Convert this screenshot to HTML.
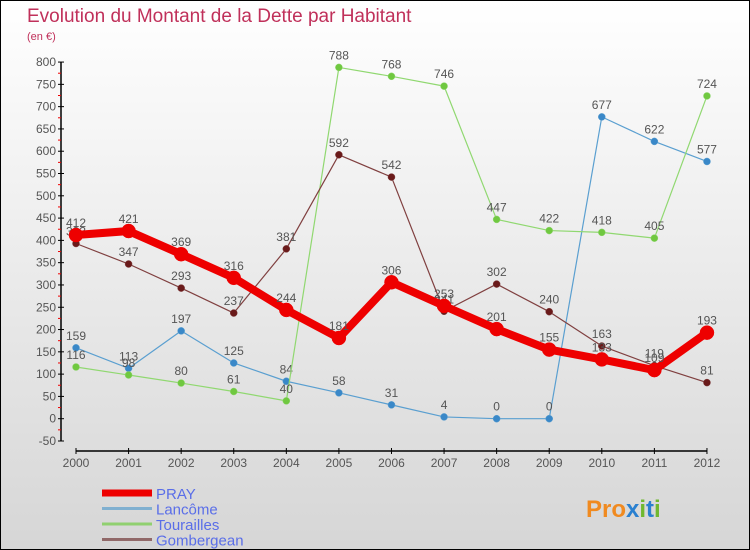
<!DOCTYPE html>
<html><head><meta charset="utf-8"><style>
body{margin:0}
#c{width:750px;height:550px;position:relative;box-sizing:border-box;border:1px solid #000;background:linear-gradient(#ffffff,#d6d6d6);overflow:hidden;font-family:"Liberation Sans","DejaVu Sans",sans-serif}
svg text{font-family:"Liberation Sans","DejaVu Sans",sans-serif}
</style></head><body>
<div id="c">
<svg id="s" width="750" height="550" xmlns="http://www.w3.org/2000/svg">
<text x="26" y="21" font-size="19" fill="#c0305a">Evolution du Montant de la Dette par Habitant</text>
<text x="26" y="39" font-size="11" fill="#c0305a">(en €)</text>
<text x="585" y="516" font-size="24" font-weight="bold" fill="#f08a20">Pro<tspan fill="#2a80d0">x</tspan><tspan fill="#70b830">i</tspan><tspan fill="#2a80d0">t</tspan><tspan fill="#70b830">i</tspan></text>
<g id="g"></g>
</svg>
</div>
<script>
const years=["2000","2001","2002","2003","2004","2005","2006","2007","2008","2009","2010","2011","2012"];
const yTicks=[-50,0,50,100,150,200,250,300,350,400,450,500,550,600,650,700,750,800];
const pray=[412,421,369,316,244,181,306,253,201,155,133,109,193];
const lancome=[159,113,197,125,84,58,31,4,0,0,677,622,577];
const tourailles=[116,98,80,61,40,788,768,746,447,422,418,405,724];
const gombergean=[393,347,293,237,381,592,542,241,302,240,163,119,81];
const NS="http://www.w3.org/2000/svg";
const g=document.getElementById('g');
function X(i){return 75+i*52.58;}
function Y(v){return 417.7-v*0.4458;}
function el(t,a){const e=document.createElementNS(NS,t);for(const k in a)e.setAttribute(k,a[k]);g.appendChild(e);return e;}
let ax=el('line',{x1:60,y1:Y(800),x2:60,y2:Y(-50),stroke:'#000','stroke-width':1.5});


yTicks.forEach(v=>{
 el('line',{x1:57,y1:Y(v),x2:63,y2:Y(v),stroke:'#000'});
 if(v<800)el('line',{x1:57,y1:Y(v+25),x2:60,y2:Y(v+25),stroke:'#e00'});
 const t=el('text',{x:55,y:Y(v)+4,'text-anchor':'end','font-size':12,fill:'#555'});t.textContent=v;
 
 
});
let xa=el('line',{x1:X(0),y1:450,x2:X(12),y2:450,stroke:'#000','stroke-width':1.5});


years.forEach((y,i)=>{
 el('line',{x1:X(i),y1:447,x2:X(i),y2:453,stroke:'#000'});
 const t=el('text',{x:X(i),y:466,'text-anchor':'middle','font-size':12,fill:'#555'});t.textContent=y;
 
 
});
function series(d,col,dot,w,r,name){
 const p=el('polyline',{points:d.map((v,i)=>X(i)+','+Y(v)).join(' '),fill:'none',stroke:col,'stroke-width':w,'stroke-linejoin':'round'});
 
 
 d.forEach((v,i)=>{
  const c=el('circle',{cx:X(i),cy:Y(v),r:r,fill:dot,stroke:col,'stroke-width':0.5});
  
  
  const t=el('text',{x:X(i),y:Y(v)-8,'text-anchor':'middle','font-size':12,fill:'#555'});t.textContent=v;
  
  
 });
}
series(lancome,'#5a9fd0','#3a88c8',1.2,3.5,'lancome');
series(tourailles,'#90d870','#70c840',1.2,3.5,'tourailles');
series(gombergean,'#804040','#6a1a1a',1.2,3.5,'gombergean');
series(pray,'#ee0000','#ee0000',8,7,'pray');
const leg=[["PRAY","#ee0000",7],["Lancôme","#80b0d0",3],["Tourailles","#90d070",3],["Gombergean","#906868",3]];
leg.forEach((l,i)=>{
 const y=492+i*15.5;
 const ln=el('line',{x1:101,y1:y,x2:151,y2:y,stroke:l[1],'stroke-width':l[2]});
 
 
 const t=el('text',{x:155,y:y+6,'font-size':15,fill:'#5a6ee8'});t.textContent=l[0];
 
 
});
</script>
</body></html>
